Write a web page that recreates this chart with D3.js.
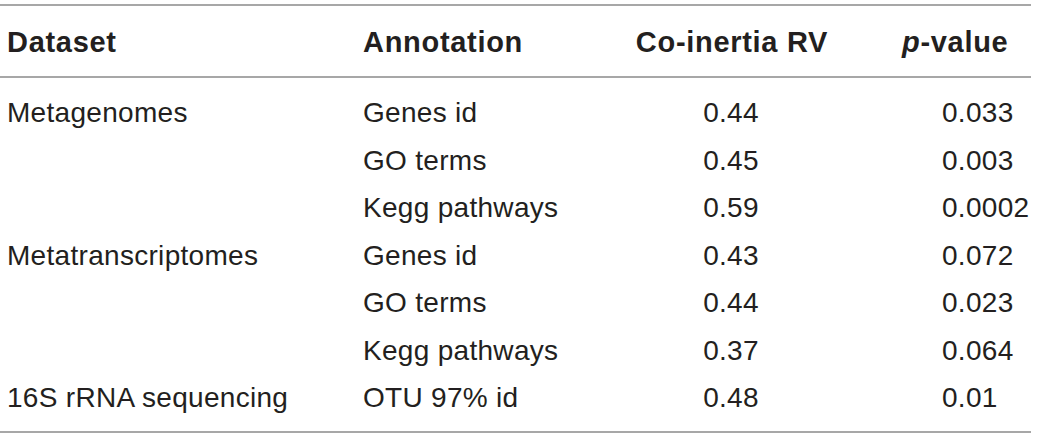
<!DOCTYPE html>
<html><head><meta charset="utf-8">
<script src="https://cdn.jsdelivr.net/npm/d3@7/dist/d3.min.js"></script>
<style>html,body{margin:0;padding:0;background:#fff;}</style>
</head><body>
<svg id="chart" width="1039" height="438"></svg>
<script>
const headers = ["Dataset", "Annotation", "Co-inertia RV", "p-value"];
const datasets = ["Metagenomes", "", "", "Metatranscriptomes", "", "", "16S rRNA sequencing"];
const annotations = ["Genes id", "GO terms", "Kegg pathways", "Genes id", "GO terms", "Kegg pathways", "OTU 97% id"];
const rvValues = ["0.44", "0.45", "0.59", "0.43", "0.44", "0.37", "0.48"];
const pValues = ["0.033", "0.003", "0.0002", "0.072", "0.023", "0.064", "0.01"];

const svg = d3.select("#chart");
const font = "'Liberation Sans', Arial, Helvetica, sans-serif";
const textColor = "#231f20";
const lineColor = "#a7a7a7";
const fsBody = 28;
const fsHead = 29;

const y = d3.scalePoint().domain(d3.range(annotations.length)).range([122, 407]);

// rules
[5, 77, 432].forEach(yy => {
  svg.append("line").attr("x1", 0).attr("x2", 1031).attr("y1", yy).attr("y2", yy)
    .attr("stroke", lineColor).attr("stroke-width", 2);
});

// header
const hy = 52;
const hdr = svg.append("g").attr("font-family", font).attr("font-weight", "bold")
  .attr("font-size", fsHead).attr("letter-spacing", 0.7).attr("fill", textColor);
hdr.append("text").attr("x", 7).attr("y", hy).text(headers[0]);
hdr.append("text").attr("x", 363).attr("y", hy).text(headers[1]);
hdr.append("text").attr("x", 732).attr("y", hy).attr("text-anchor", "middle").text(headers[2]);
const pt = hdr.append("text").attr("x", 902).attr("y", hy);
pt.append("tspan").attr("font-style", "italic").text(headers[3].split("-")[0]);
pt.append("tspan").text("-" + headers[3].split("-").slice(1).join("-"));

const body = svg.append("g").attr("font-family", font).attr("font-size", fsBody)
  .attr("letter-spacing", 0.3).attr("fill", textColor);
const idx = d3.range(annotations.length);
body.selectAll("text.ds").data(idx).join("text").attr("class", "ds")
  .attr("x", 7).attr("y", i => y(i)).text(i => datasets[i]);
body.selectAll("text.an").data(idx).join("text").attr("class", "an")
  .attr("x", 363).attr("y", i => y(i)).text(i => annotations[i]);
body.selectAll("text.rv").data(idx).join("text").attr("class", "rv")
  .attr("x", 731).attr("y", i => y(i)).attr("text-anchor", "middle").text(i => rvValues[i]);
body.selectAll("text.pv").data(idx).join("text").attr("class", "pv")
  .attr("x", 942).attr("y", i => y(i)).text(i => pValues[i]);
</script>
</body></html>
